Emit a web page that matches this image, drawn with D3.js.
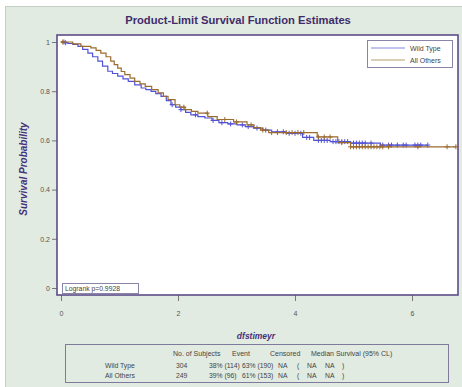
<!DOCTYPE html>
<html>
<head>
<meta charset="utf-8">
<script src="https://cdn.jsdelivr.net/npm/d3@7"></script>
<style>
  body { margin: 0; background: #fff; }
  text { font-family: "Liberation Sans", Arial, sans-serif; }
</style>
</head>
<body>
<div id="chart"></div>
<script>
// Kaplan-Meier estimates: [time, survival after step]
const wildSteps = [
  [0, 1], [0.06, 0.997], [0.12, 0.994], [0.20, 0.99], [0.29, 0.982], [0.37, 0.97],
  [0.46, 0.955], [0.54, 0.94], [0.63, 0.922], [0.71, 0.902], [0.80, 0.881], [0.88, 0.872],
  [0.97, 0.861], [1.06, 0.85], [1.15, 0.84], [1.26, 0.826], [1.37, 0.813], [1.45, 0.806],
  [1.54, 0.799], [1.62, 0.79], [1.71, 0.779], [1.80, 0.762], [1.88, 0.745], [1.96, 0.735],
  [2.05, 0.725], [2.13, 0.714], [2.22, 0.704], [2.34, 0.697], [2.46, 0.691], [2.58, 0.681],
  [2.70, 0.672], [2.85, 0.667], [3.01, 0.663], [3.15, 0.656], [3.29, 0.650], [3.45, 0.642],
  [3.60, 0.635], [3.85, 0.629], [4.13, 0.612], [4.32, 0.60], [4.60, 0.595], [4.95, 0.589],
  [5.46, 0.581]
]
const wildEnd = 6.27
const otherSteps = [
  [0, 1], [0.20, 0.992], [0.34, 0.982], [0.51, 0.976], [0.60, 0.966], [0.68, 0.955],
  [0.77, 0.94], [0.85, 0.922], [0.91, 0.908], [0.97, 0.894], [1.03, 0.88], [1.09, 0.867],
  [1.18, 0.853], [1.26, 0.84], [1.35, 0.83], [1.44, 0.82], [1.55, 0.806], [1.66, 0.793],
  [1.75, 0.779], [1.83, 0.766], [1.95, 0.745], [2.03, 0.735], [2.12, 0.725], [2.23, 0.718],
  [2.34, 0.711], [2.51, 0.697], [2.67, 0.685], [2.95, 0.675], [3.18, 0.663], [3.30, 0.652],
  [3.41, 0.642], [3.55, 0.632], [4.38, 0.614], [4.73, 0.591], [4.95, 0.574]
]
const otherEnd = 6.75

// censoring times
const wildCensor = [0.05, 0.08, 1.9, 2.05, 2.3, 2.6, 2.75, 2.9, 3.1, 3.2, 3.35, 3.5, 3.7, 3.8,
  3.9, 4.0, 4.1, 4.2, 4.25, 4.4, 4.45, 4.5, 4.55, 4.65, 4.7, 4.75, 4.8, 4.85, 4.9, 5.0, 5.05,
  5.1, 5.15, 5.2, 5.3, 5.5, 5.6, 5.65, 5.75, 5.85, 5.9, 6.05, 6.1, 6.15, 6.27]
const otherCensor = [0.03, 2.1, 2.5, 2.8, 3.0, 3.25, 3.45, 3.6, 3.7, 3.85, 3.95, 4.05, 4.15,
  4.4, 4.5, 4.6, 4.8, 4.95, 5.0, 5.05, 5.1, 5.15, 5.2, 5.25, 5.3, 5.35, 5.4, 5.45, 5.5, 5.6,
  6.1, 6.6, 6.75]

const groups = ['Wild Type', 'All Others']
const colors = ['#5252d6', '#9c6b2e']
const legendColors = ['#8888e0', '#b8a070']
const xTicks = [0, 2, 4, 6]
const yTicks = [0, 0.2, 0.4, 0.6, 0.8, 1]

const tableHeader = ['No. of Subjects', 'Event', 'Censored', 'Median Survival (95% CL)']
const tableRows = [
  ['Wild Type', '304', '38% (114)', '63% (190)', 'NA', '(', 'NA', 'NA', ')'],
  ['All Others', '249', '39% (96)', '61% (153)', 'NA', '(', 'NA', 'NA', ')']
]
const logrank = 'Logrank p=0.9928'

const width = 462, height = 387
const plot = { left: 57, right: 458, top: 35, bottom: 295 }

const svg = d3.select('#chart').append('svg')
  .attr('width', width).attr('height', height)

// outer panel
svg.append('rect')
  .attr('x', 5.5).attr('y', 6.5).attr('width', 460).attr('height', 390)
  .attr('fill', '#e1ebe1').attr('stroke', '#c6cfc6')

svg.append('text')
  .attr('x', 238).attr('y', 24)
  .attr('text-anchor', 'middle')
  .attr('font-size', 11.2).attr('font-weight', 'bold')
  .attr('fill', '#3f2b6b')
  .text('Product-Limit Survival Function Estimates')

const x = d3.scaleLinear().domain([0, 6]).range([61, 412])
const y = d3.scaleLinear().domain([0, 1]).range([288, 42])

svg.append('rect')
  .attr('x', plot.left).attr('y', plot.top)
  .attr('width', plot.right - plot.left).attr('height', plot.bottom - plot.top)
  .attr('fill', '#fff')

// axes
const yAxis = svg.append('g')
  .attr('transform', `translate(${plot.left},0)`)
  .call(d3.axisLeft(y).tickValues(yTicks).tickFormat(d => d).tickSize(5).tickPadding(2))
const xAxis = svg.append('g')
  .attr('transform', `translate(0,${plot.bottom})`)
  .call(d3.axisBottom(x).tickValues(xTicks).tickFormat(d => d).tickSize(6).tickPadding(10))
;[yAxis, xAxis].forEach(g => {
  g.select('.domain').remove()
  g.selectAll('line').attr('stroke', '#777')
  g.selectAll('text').attr('font-size', 7).attr('fill', '#555')
    .attr('font-family', '"Liberation Sans", Arial, sans-serif')
})

svg.append('text')
  .attr('transform', 'translate(27,169) rotate(-90)')
  .attr('text-anchor', 'middle')
  .attr('font-size', 10).attr('font-weight', 'bold').attr('font-style', 'italic')
  .attr('fill', '#46307a')
  .text('Survival Probability')

svg.append('text')
  .attr('x', 256).attr('y', 339)
  .attr('text-anchor', 'middle')
  .attr('font-size', 8.5).attr('font-weight', 'bold').attr('font-style', 'italic')
  .attr('fill', '#46307a')
  .text('dfstimeyr')

// survival curves
const line = d3.line().x(d => x(d[0])).y(d => y(d[1])).curve(d3.curveStepAfter)
const survAt = (steps, t) => {
  let s = 1
  steps.forEach(d => { if (d[0] <= t) s = d[1] })
  return s
}
const series = [
  { steps: wildSteps, end: wildEnd, censor: wildCensor },
  { steps: otherSteps, end: otherEnd, censor: otherCensor }
]
series.forEach((s, i) => {
  const pts = s.steps.concat([[s.end, s.steps[s.steps.length - 1][1]]])
  svg.append('path')
    .attr('d', line(pts))
    .attr('fill', 'none')
    .attr('stroke', colors[i])
    .attr('stroke-width', 1.2)
  svg.append('g').selectAll('path')
    .data(s.censor)
    .enter()
    .append('path')
    .attr('d', t => {
      const cx = x(t), cy = y(survAt(s.steps, t))
      return `M${cx - 2.5},${cy}H${cx + 2.5}M${cx},${cy - 2.5}V${cy + 2.5}`
    })
    .attr('stroke', colors[i])
    .attr('stroke-width', 1)
})

// plot frame
svg.append('rect')
  .attr('x', plot.left).attr('y', plot.top)
  .attr('width', plot.right - plot.left).attr('height', plot.bottom - plot.top)
  .attr('fill', 'none').attr('stroke', '#5d4c88').attr('stroke-width', 1.6)

// legend
const legend = svg.append('g')
legend.append('rect')
  .attr('x', 367.5).attr('y', 40.5).attr('width', 85).attr('height', 27)
  .attr('fill', '#fff').attr('stroke', '#8a84a8')
groups.forEach((g, i) => {
  const ly = 48 + i * 12
  legend.append('line')
    .attr('x1', 371).attr('x2', 405).attr('y1', ly).attr('y2', ly)
    .attr('stroke', legendColors[i]).attr('stroke-width', 1.2)
  legend.append('text')
    .attr('x', 410).attr('y', ly + 2.5)
    .attr('font-size', 7).attr('fill', '#444')
    .text(g)
})

// logrank box
svg.append('rect')
  .attr('x', 62.5).attr('y', 283.5).attr('width', 76).attr('height', 10)
  .attr('fill', '#fff').attr('stroke', '#8a84a8')
svg.append('text')
  .attr('x', 65).attr('y', 291)
  .attr('font-size', 6.8).attr('fill', '#444')
  .text(logrank)

// summary table
svg.append('rect')
  .attr('x', 65.5).attr('y', 344.5).attr('width', 383).attr('height', 38)
  .attr('fill', 'none').attr('stroke', '#7e7a9c')
const headX = [173, 232, 270, 311]
tableHeader.forEach((h, i) => {
  svg.append('text')
    .attr('x', headX[i]).attr('y', 356)
    .attr('font-size', 7).attr('fill', '#444')
    .text(h)
})
const colX = [105, 176, 209, 242, 278, 297, 307, 325, 342]
tableRows.forEach((r, j) => {
  r.forEach((v, i) => {
    svg.append('text')
      .attr('x', colX[i]).attr('y', 368 + j * 10)
      .attr('font-size', 6.8).attr('fill', '#444')
      .text(v)
  })
})
</script>
</body>
</html>
